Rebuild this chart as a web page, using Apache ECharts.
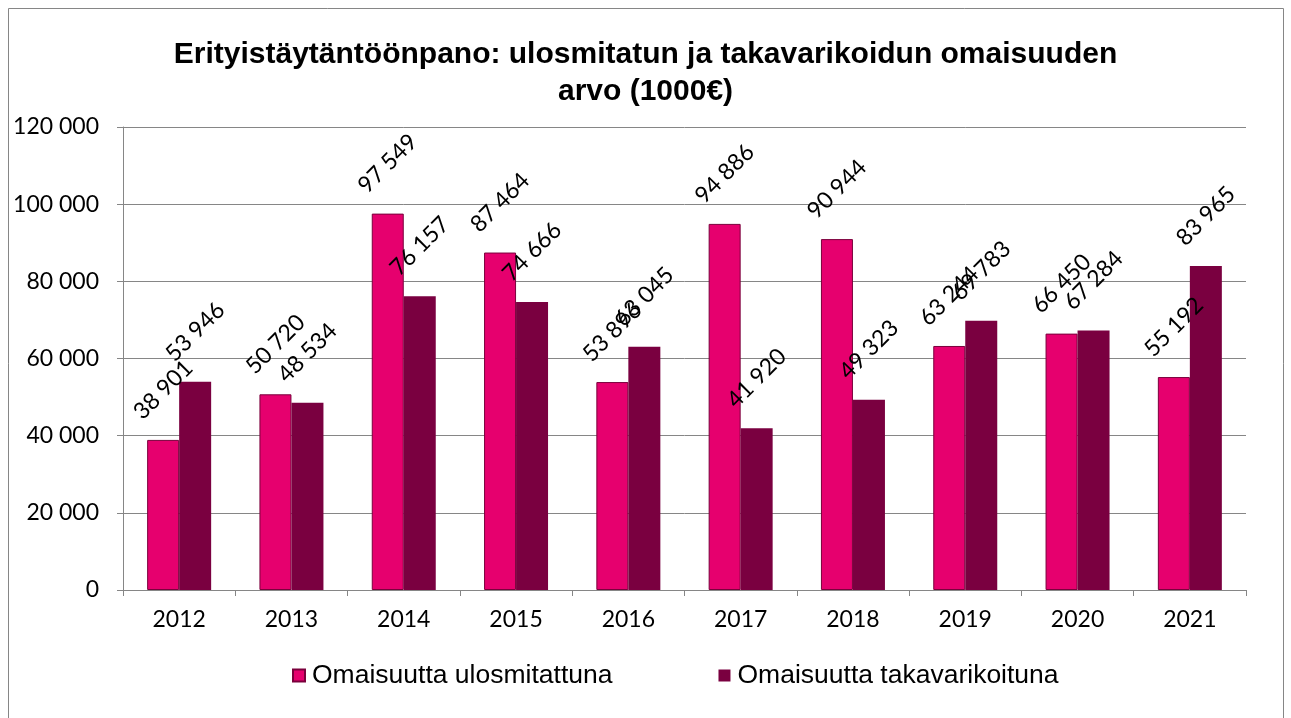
<!DOCTYPE html>
<html lang="fi">
<head>
    <meta charset="utf-8">
    <title>Erityistäytäntöönpano</title>
    <style>
        html, body {margin: 0; padding: 0; background: #fff;}
        #container {width: 1291px; height: 718px;}
    </style>
</head>
<body>
<div id="container"></div>
<script src="https://cdn.jsdelivr.net/npm/echarts@6/dist/echarts.min.js"></script>
<script>
var years = ['2012', '2013', '2014', '2015', '2016', '2017', '2018', '2019', '2020', '2021'];
var ulosmitattuna = [38901, 50720, 97549, 87464, 53896, 94886, 90944, 63244, 66450, 55192];
var takavarikoituna = [53946, 48534, 76157, 74666, 63045, 41920, 49323, 69783, 67284, 83965];
var seriesNames = ['Omaisuutta ulosmitattuna', 'Omaisuutta takavarikoituna'];

function fmt(v) {
    return String(v).replace(/\B(?=(\d{3})+(?!\d))/g, ' ');
}

var labelFont = 'Lato, "Open Sans", sans-serif';

function barLabel() {
    return {
        show: true,
        position: 'top',
        distance: 50,
        rotate: 45,
        align: 'center',
        verticalAlign: 'middle',
        fontFamily: labelFont,
        fontSize: 23,
        color: '#000',
        formatter: function (p) { return fmt(p.value); }
    };
}

var myChart = echarts.init(document.getElementById('container'));
var option = {
    animation: false,
    backgroundColor: '#fff',
    graphic: [{
        type: 'rect',
        shape: {x: 8.5, y: 8.5, width: 1275, height: 730},
        style: {fill: 'none', stroke: '#868686', lineWidth: 1}
    }],
    title: {
        text: 'Erityistäytäntöönpano: ulosmitatun ja takavarikoidun omaisuuden\narvo (1000€)',
        left: 'center',
        top: 31,
        textStyle: {
            fontFamily: '"Liberation Sans", Arial, sans-serif',
            fontWeight: 'bold',
            fontSize: 30,
            lineHeight: 37,
            color: '#000'
        }
    },
    legend: {
        data: seriesNames,
        top: 657,
        left: 287,
        itemWidth: 12,
        itemHeight: 12,
        itemGap: 106,
        icon: 'rect',
        textStyle: {
            fontFamily: '"Liberation Sans", Arial, sans-serif',
            fontSize: 26.5,
            color: '#000',
            padding: [0, 0, 0, 2]
        }
    },
    grid: {left: 123, right: 45, top: 127, bottom: 128},
    xAxis: {
        type: 'category',
        data: years,
        axisLine: {lineStyle: {color: '#868686'}},
        axisTick: {show: true, length: 6, lineStyle: {color: '#868686'}},
        axisLabel: {
            fontFamily: labelFont,
            fontSize: 23,
            color: '#000',
            margin: 18
        }
    },
    yAxis: {
        type: 'value',
        min: 0,
        max: 120000,
        interval: 20000,
        axisLine: {show: true, lineStyle: {color: '#868686'}},
        axisTick: {show: true, length: 6, lineStyle: {color: '#868686'}},
        splitLine: {lineStyle: {color: '#868686', width: 1}},
        axisLabel: {
            fontFamily: labelFont,
            fontSize: 23,
            color: '#000',
            margin: 24,
            formatter: fmt
        }
    },
    series: [
        {
            name: seriesNames[0],
            type: 'bar',
            data: ulosmitattuna,
            barWidth: 32,
            barGap: '0%',
            itemStyle: {color: '#E6006E', borderColor: '#7A003C', borderWidth: 1},
            label: barLabel()
        },
        {
            name: seriesNames[1],
            type: 'bar',
            data: takavarikoituna,
            barWidth: 32,
            itemStyle: {color: '#7A0040'},
            label: barLabel()
        }
    ]
};
myChart.setOption(option);
</script>
</body>
</html>
